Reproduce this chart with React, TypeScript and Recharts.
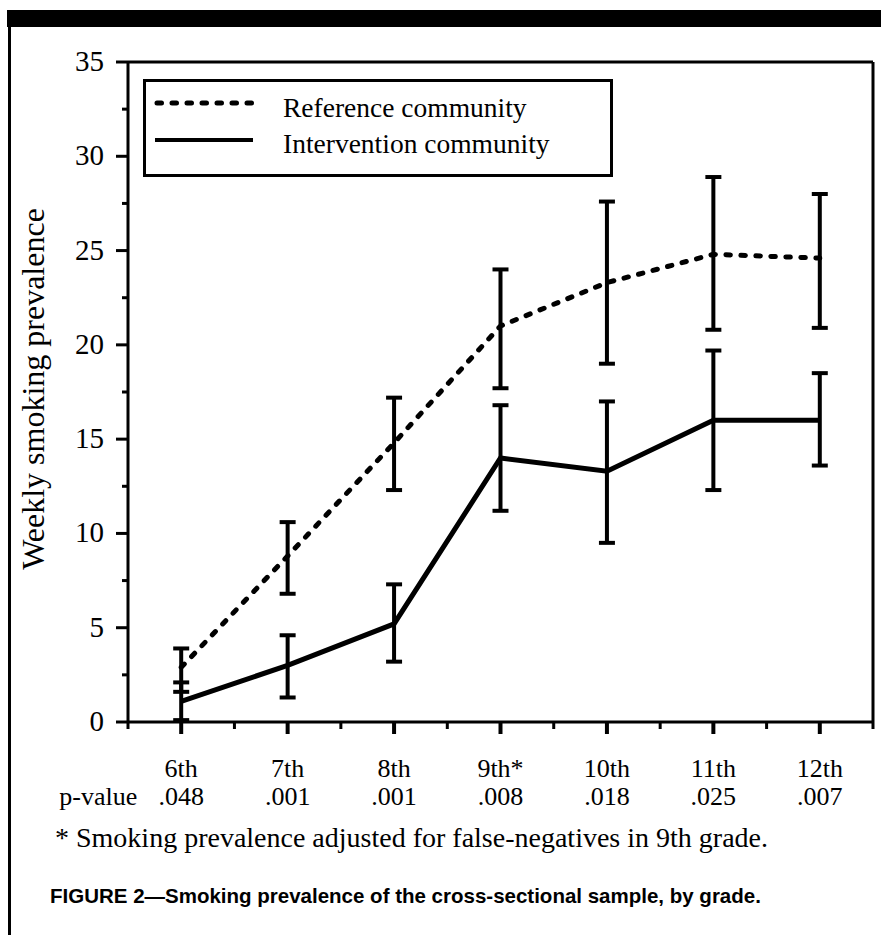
import React from 'react';
import { LineChart, Line, XAxis, YAxis, ErrorBar, Legend } from 'recharts';

const grades = ['6th', '7th', '8th', '9th*', '10th', '11th', '12th'];
const pValues = ['.048', '.001', '.001', '.008', '.018', '.025', '.007'];

const referenceMean = [2.9, 8.8, 14.8, 21.0, 23.3, 24.8, 24.6];
const referenceLow = [1.6, 6.8, 12.3, 17.7, 19.0, 20.8, 20.9];
const referenceHigh = [3.9, 10.6, 17.2, 24.0, 27.6, 28.9, 28.0];

const interventionMean = [1.1, 3.0, 5.2, 14.0, 13.3, 16.0, 16.0];
const interventionLow = [0.1, 1.3, 3.2, 11.2, 9.5, 12.3, 13.6];
const interventionHigh = [2.1, 4.6, 7.3, 16.8, 17.0, 19.7, 18.5];

const yTicks = [0, 2.5, 5, 7.5, 10, 12.5, 15, 17.5, 20, 22.5, 25, 27.5, 30, 32.5, 35];
const yMajorTicks = [0, 5, 10, 15, 20, 25, 30, 35];

const seriesNames = ['Reference community', 'Intervention community'];
const yAxisTitle = 'Weekly smoking prevalence';
const pValueTitle = 'p-value';
const footnote = '* Smoking prevalence adjusted for false-negatives in 9th grade.';
const caption = 'FIGURE 2\u2014Smoking prevalence of the cross-sectional sample, by grade.';

const data = grades.map((g, i) => ({
  grade: g,
  p: pValues[i],
  reference: referenceMean[i],
  referenceErr: [referenceMean[i] - referenceLow[i], referenceHigh[i] - referenceMean[i]],
  intervention: interventionMean[i],
  interventionErr: [interventionMean[i] - interventionLow[i], interventionHigh[i] - interventionMean[i]],
}));

const SERIF = '"Liberation Serif", "Times New Roman", serif';
const SANS = '"Liberation Sans", Arial, sans-serif';
const DOT_DASH = '4.5 10.5';
const HALF_BAND = 53.2;

const YTick = (props: any) => {
  const { x, y, payload } = props;
  const v = payload.value;
  const major = yMajorTicks.includes(v);
  return (
    <g>
      <line x1={x - (major ? 12 : 6)} x2={x} y1={y} y2={y} stroke="#000" strokeWidth={3} />
      {major && (
        <text x={x - 24} y={y + 9} textAnchor="end" fontFamily={SERIF} fontSize={29} fill="#000">
          {v}
        </text>
      )}
    </g>
  );
};

const XTick = (props: any) => {
  const { x, y, payload, index } = props;
  const p = pValues[index];
  const last = index === grades.length - 1;
  return (
    <g>
      <line x1={x} x2={x} y1={y} y2={y + 12} stroke="#000" strokeWidth={4} />
      <line x1={x - HALF_BAND} x2={x - HALF_BAND} y1={y} y2={y + 7} stroke="#000" strokeWidth={3} />
      {last && <line x1={x + HALF_BAND} x2={x + HALF_BAND} y1={y} y2={y + 7} stroke="#000" strokeWidth={3} />}
      <text x={x} y={y + 55} textAnchor="middle" fontFamily={SERIF} fontSize={26} fill="#000">
        {payload.value}
      </text>
      <text x={x} y={y + 83} textAnchor="middle" fontFamily={SERIF} fontSize={26} fill="#000">
        {p}
      </text>
      {index === 0 && (
        <text x={x - 44} y={y + 83} textAnchor="end" fontFamily={SERIF} fontSize={26} fill="#000">
          {pValueTitle}
        </text>
      )}
    </g>
  );
};

const YLabel = (props: any) => {
  const vb = props.viewBox || { x: 0, y: 62, width: 128, height: 660 };
  const cx = vb.x + 33;
  const cy = vb.y + vb.height / 2 - 3;
  return (
    <text
      x={cx}
      y={cy}
      transform={`rotate(-90, ${cx}, ${cy})`}
      textAnchor="middle"
      dominantBaseline="central"
      fontFamily={SERIF}
      fontSize={32}
      fill="#000"
    >
      {yAxisTitle}
    </text>
  );
};

const LegendBox = () => (
  <svg width={470} height={98} style={{ display: 'block' }}>
    <rect x={1.5} y={1.5} width={467} height={95} fill="#fff" stroke="#000" strokeWidth={3} />
    <line x1={14} x2={110} y1={24} y2={24} stroke="#000" strokeWidth={5} strokeDasharray={DOT_DASH} strokeLinecap="round" />
    <line x1={12} x2={110} y1={61} y2={61} stroke="#000" strokeWidth={4} />
    <text x={140} y={38} fontFamily={SERIF} fontSize={27.5} fill="#000">{seriesNames[0]}</text>
    <text x={140} y={74} fontFamily={SERIF} fontSize={27.5} fill="#000">{seriesNames[1]}</text>
  </svg>
);

export default function App() {
  return (
    <div style={{ position: 'absolute', left: 0, top: 0, width: 881, height: 935, background: '#fff', overflow: 'hidden' }}>
      <div style={{ position: 'absolute', left: 7, top: 10, width: 874, height: 17, background: '#000' }} />
      <div style={{ position: 'absolute', left: 8, top: 10, width: 3, height: 925, background: '#000' }} />
      <div style={{ position: 'absolute', left: 0, top: 0 }}>
        <LineChart width={881} height={935} data={data} margin={{ top: 61, right: 7, bottom: 0, left: 0 }}>
          <XAxis
            xAxisId="bottom"
            dataKey="grade"
            orientation="bottom"
            padding={{ left: HALF_BAND, right: HALF_BAND }}
            interval={0}
            height={213}
            tickSize={0}
            tickMargin={0}
            tickLine={false}
            axisLine={{ stroke: '#000', strokeWidth: 3 }}
            tick={<XTick />}
          />
          <XAxis
            xAxisId="top"
            dataKey="grade"
            orientation="top"
            height={1}
            tick={false}
            tickLine={false}
            axisLine={{ stroke: '#000', strokeWidth: 3 }}
          />
          <YAxis
            yAxisId="left"
            type="number"
            domain={[0, 35]}
            ticks={yTicks}
            interval={0}
            width={128}
            tickSize={0}
            tickMargin={0}
            tickLine={false}
            axisLine={{ stroke: '#000', strokeWidth: 3 }}
            tick={<YTick />}
            label={<YLabel />}
          />
          <YAxis
            yAxisId="right"
            orientation="right"
            type="number"
            domain={[0, 35]}
            width={1}
            tick={false}
            tickLine={false}
            axisLine={{ stroke: '#000', strokeWidth: 3 }}
          />
          <Legend
            layout="horizontal"
            verticalAlign="middle"
            align="center"
            content={<LegendBox />}
            wrapperStyle={{ position: 'absolute', left: 143, top: 79, width: 470, height: 98 }}
          />
          <Line
            xAxisId="bottom"
            yAxisId="left"
            type="linear"
            dataKey="reference"
            name={seriesNames[0]}
            stroke="#000"
            strokeWidth={5}
            strokeDasharray={DOT_DASH}
            strokeLinecap="round"
            dot={false}
            activeDot={false}
            isAnimationActive={false}
          >
            <ErrorBar dataKey="referenceErr" direction="y" width={8} stroke="#000" strokeWidth={4} isAnimationActive={false} />
          </Line>
          <Line
            xAxisId="bottom"
            yAxisId="left"
            type="linear"
            dataKey="intervention"
            name={seriesNames[1]}
            stroke="#000"
            strokeWidth={5}
            dot={false}
            activeDot={false}
            isAnimationActive={false}
          >
            <ErrorBar dataKey="interventionErr" direction="y" width={8} stroke="#000" strokeWidth={4} isAnimationActive={false} />
          </Line>
        </LineChart>
      </div>
      <div style={{ position: 'absolute', left: 55, top: 822, fontFamily: SERIF, fontSize: 28, lineHeight: '32px', color: '#000', whiteSpace: 'nowrap' }}>
        {footnote}
      </div>
      <div style={{ position: 'absolute', left: 50, top: 884, fontFamily: SANS, fontWeight: 'bold', fontSize: 20.5, lineHeight: '24px', color: '#000', whiteSpace: 'nowrap' }}>
        {caption}
      </div>
    </div>
  );
}
